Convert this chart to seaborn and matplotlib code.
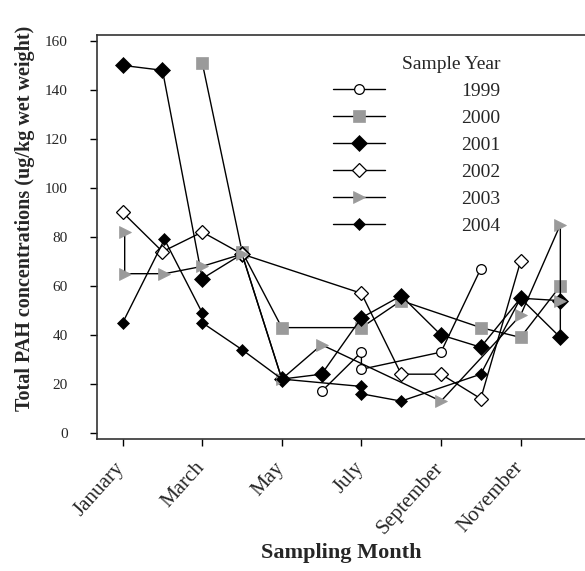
import matplotlib
matplotlib.use("Agg")
import matplotlib.pyplot as plt
import matplotlib.transforms as mtransforms
import seaborn as sns
import pandas as pd

# ---- data (month number, value); repeated months = two samples in that month
months_1999 = [6, 7, 7, 9, 10]
pah_1999 = [17, 33, 26, 33, 67]

months_2000 = [3, 4, 5, 7, 8, 10, 11, 12]
pah_2000 = [151, 74, 43, 43, 54, 43, 39, 60]

months_2001 = [1, 2, 3, 4, 5, 6, 7, 8, 9, 10, 11, 12, 12]
pah_2001 = [150, 148, 63, 73, 22, 24, 47, 56, 40, 35, 55, 54, 39]

months_2002 = [1, 2, 3, 4, 7, 8, 9, 10, 11]
pah_2002 = [90, 74, 82, 73, 57, 24, 24, 14, 70]

months_2003 = [1.05, 1.05, 2.05, 3, 4, 5, 6, 9, 11, 12, 12]
pah_2003 = [82, 65, 65, 68, 73, 22, 36, 13, 48, 85, 54]

months_2004 = [1, 2.05, 3, 3, 4, 5, 7, 7, 8, 10, 11, 12]
pah_2004 = [45, 79, 49, 45, 34, 22, 19, 16, 13, 24, 55, 39]

years = ["1999", "2000", "2001", "2002", "2003", "2004"]
tick_months = [1, 3, 5, 7, 9, 11]
tick_labels = ["January", "March", "May", "July", "September", "November"]
y_ticks = [0, 20, 40, 60, 80, 100, 120, 140, 160]

series = {
    "1999": (months_1999, pah_1999),
    "2000": (months_2000, pah_2000),
    "2001": (months_2001, pah_2001),
    "2002": (months_2002, pah_2002),
    "2003": (months_2003, pah_2003),
    "2004": (months_2004, pah_2004),
}

GRAY = "#9a9a9a"
styles = {
    "1999": dict(marker="o", markersize=7, markerfacecolor="white", markeredgecolor="black", markeredgewidth=0.9),
    "2000": dict(marker="s", markersize=8, markerfacecolor=GRAY, markeredgecolor=GRAY, markeredgewidth=0.5),
    "2001": dict(marker="D", markersize=8.5, markerfacecolor="black", markeredgecolor="black", markeredgewidth=0.5),
    "2002": dict(marker="D", markersize=7.5, markerfacecolor="white", markeredgecolor="black", markeredgewidth=0.9),
    "2003": dict(marker=">", markersize=9, markerfacecolor=GRAY, markeredgecolor=GRAY, markeredgewidth=0.5),
    "2004": dict(marker="D", markersize=6.5, markerfacecolor="black", markeredgecolor="black", markeredgewidth=0.5),
}

sns.set_style("ticks")
plt.rcParams["font.family"] = ["Liberation Serif", "DejaVu Serif"]
plt.rcParams["xtick.direction"] = "out"
plt.rcParams["ytick.direction"] = "out"

fig = plt.figure(figsize=(5.85, 5.71), dpi=100)
ax = fig.add_axes([97 / 585, 132 / 571, 1 - 97 / 585, 404 / 571])

handles = []
for yr in years:
    mx, vy = series[yr]
    df = pd.DataFrame({"month": mx, "pah": vy})
    sns.lineplot(data=df, x="month", y="pah", estimator=None, sort=False,
                 color="black", linewidth=1.0, ax=ax, **styles[yr])
    handles.append(ax.lines[-1])

ax.set_xlim(0.354, 12.62)
ax.set_ylim(-2.45, 162.4)
ax.set_xticks(tick_months)
ax.set_yticks(y_ticks)
ax.tick_params(axis="both", length=5, width=1, color="black")
ax.tick_params(axis="x", pad=9)
ax.tick_params(axis="y", pad=16)
ax.set_xticklabels(tick_labels, rotation=48, ha="right", rotation_mode="anchor", fontsize=15)
ax.set_yticklabels([str(v) for v in y_ticks], fontsize=11)
shift = mtransforms.ScaledTranslation(-8 / 100, 0, fig.dpi_scale_trans)
for lab in ax.get_xticklabels():
    lab.set_transform(lab.get_transform() + shift)

for side in ["left", "bottom", "top"]:
    ax.spines[side].set_visible(True)
    ax.spines[side].set_linewidth(1.2)
    ax.spines[side].set_color("#333333")
ax.spines["right"].set_visible(False)

ax.set_xlabel("Sampling Month", fontsize=16, fontweight="bold", va="center")
ax.xaxis.set_label_coords(0.5, -0.282)
ax.set_ylabel("Total PAH concentrations (ug/kg wet weight)", fontsize=14.5, fontweight="bold", va="center")
ax.yaxis.set_label_coords(-0.1475, 0.547)

leg = ax.legend(handles, years, title="Sample Year", loc="upper left",
                bbox_to_anchor=(0.483, 0.948), frameon=False, fontsize=14,
                title_fontsize=14, handlelength=2.7, handletextpad=3.9,
                labelspacing=0.48, borderpad=0, borderaxespad=0,
                alignment="right")

fig.savefig("out.png", dpi=100)
